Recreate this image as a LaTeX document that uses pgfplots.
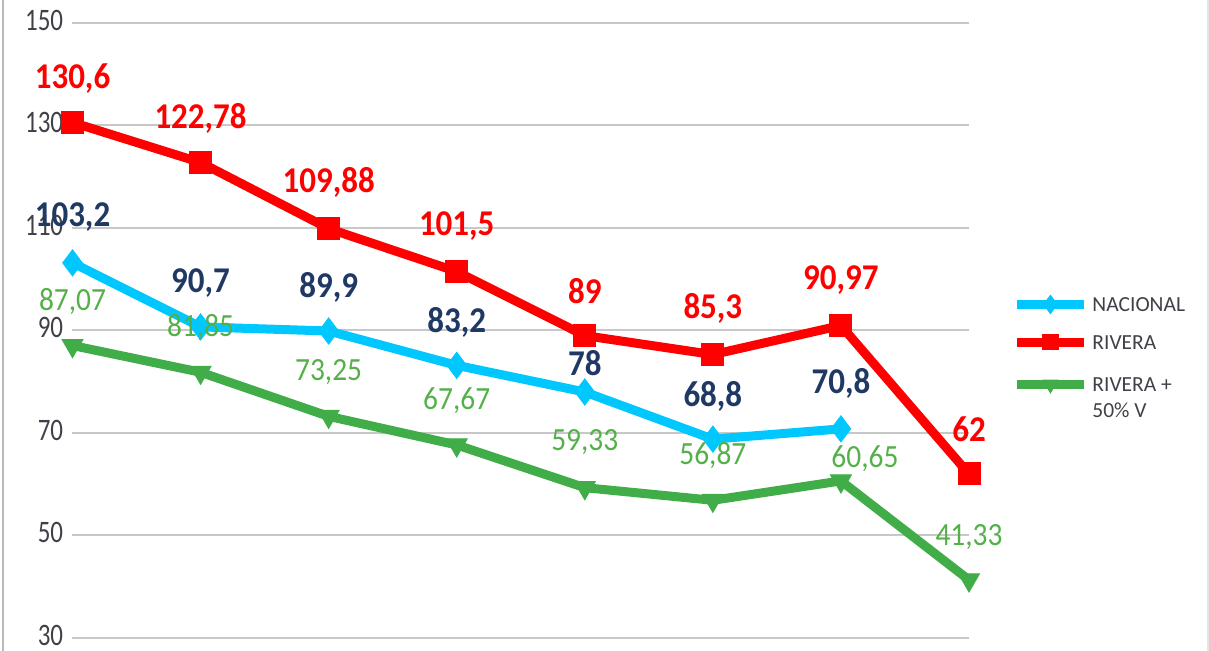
\documentclass[border=0pt]{standalone}
\usepackage{pgfplots}
\pgfplotsset{compat=1.18}
\usepackage{pgfplotstable}
\usepackage{graphicx}
\usepackage{fontspec}
\setmainfont{Carlito}

\definecolor{ccyan}{RGB}{0,200,255}
\definecolor{cred}{RGB}{255,0,0}
\definecolor{cgreen}{RGB}{64,173,72}
\definecolor{lgreen}{RGB}{84,176,72}
\definecolor{navy}{RGB}{31,56,100}
\definecolor{tickgray}{RGB}{64,64,72}
\definecolor{gridgray}{RGB}{200,200,200}

\pgfplotstableread{
x y lab dx dy
0 103.2 103,2 0 23
1 90.7 90,7 0 22
2 89.9 89,9 0 22
3 83.2 83,2 0 21.5
4 78 78 0 14.3
5 68.8 68,8 0 21.5
6 70.8 70,8 0 22.5
}\nacional

\pgfplotstableread{
x y lab dx dy
0 130.6 130,6 0 22
1 122.78 122,78 0 22
2 109.88 109,88 0 23
3 101.5 101,5 0 22.5
4 89 89 0 22.5
5 85.3 85,3 0 23
6 90.97 90,97 0 22.5
7 62 62 0 22.5
}\rivera

\pgfplotstableread{
x y lab dx dy
0 87.07 87,07 0 22
1 81.85 81,85 0 22.5
2 73.25 73,25 0 22
3 67.67 67,67 0 22
4 59.33 59,33 0 23
5 56.87 56,87 0 22.5
6 60.65 60,65 12 11.2
7 41.33 41,33 0 21.5
}\riverav

\begin{document}
\begin{tikzpicture}
\useasboundingbox (-36.25pt,-6.5pt) rectangle (568.25pt,319pt);
\begin{axis}[
  scale only axis, width=448.25pt, height=307.5pt,
  xmin=0, xmax=7, ymin=30, ymax=150,
  ytick={30,50,...,150}, xtick=\empty,
  axis line style={draw=none}, tick style={draw=none},
  ymajorgrids, grid style={gridgray, line width=1pt},
  clip=false,
  /pgf/number format/assume math mode=true,
  yticklabel={\scalebox{1}[1.25]{\pgfmathprintnumber{\tick}}},
  yticklabel style={font=\fontsize{12.5}{14}\selectfont, text=tickgray, inner sep=0pt, xshift=-4.5pt, yshift=1.5pt},
  point meta=explicit symbolic,
  nodes near coords={\scalebox{1}[1.1]{\pgfplotspointmeta}},
  visualization depends on={\thisrow{dx} \as \ldx},
  visualization depends on={\thisrow{dy} \as \ldy},
  every node near coord/.append style={anchor=center, xshift=\ldx pt, yshift=\ldy pt},
  legend style={at={(1.048,0.5605)}, anchor=north west, draw=none, fill=none,
    font=\fontsize{10.75}{13}\selectfont, text=tickgray, row sep=6.5pt,
    inner sep=0pt, cells={anchor=base west}},
  legend image code/.code={\draw[mark repeat=2, mark phase=2, every mark/.append style={scale=0.7}, #1] plot coordinates {(0pt,3.6pt) (16.75pt,3.6pt) (33.5pt,3.6pt)};},
]
\addplot[color=ccyan, line width=4.5pt, mark=diamond*, mark size=6.5pt, mark options={solid, line width=0.5pt},
  every node near coord/.append style={font=\fontsize{16.5}{18}\selectfont\bfseries, text=navy}]
  table[x=x, y=y, meta=lab] {\nacional};
\addlegendentry{NACIONAL}
\addplot[color=cred, line width=4.5pt, mark=square*, mark size=5.5pt, mark options={solid, line width=0.5pt},
  every node near coord/.append style={font=\fontsize{16.5}{18}\selectfont\bfseries, text=cred}]
  table[x=x, y=y, meta=lab] {\rivera};
\addlegendentry{RIVERA}
\addplot[color=cgreen, line width=4.5pt, mark=triangle*, mark size=6pt, mark options={solid, line width=0.5pt, rotate=180},
  every node near coord/.append style={font=\fontsize{14.7}{16}\selectfont, text=lgreen}]
  table[x=x, y=y, meta=lab] {\riverav};
\addlegendentry{\begin{tabular}[t]{@{}l@{}}RIVERA +\\50\% V\end{tabular}}
\end{axis}
\draw[gray!55, line width=1pt] (-34.75pt,-6.5pt) -- (-34.75pt,319pt);
\draw[gray!20, line width=0.8pt] (567.7pt,-6.5pt) -- (567.7pt,319pt);
\end{tikzpicture}
\end{document}
